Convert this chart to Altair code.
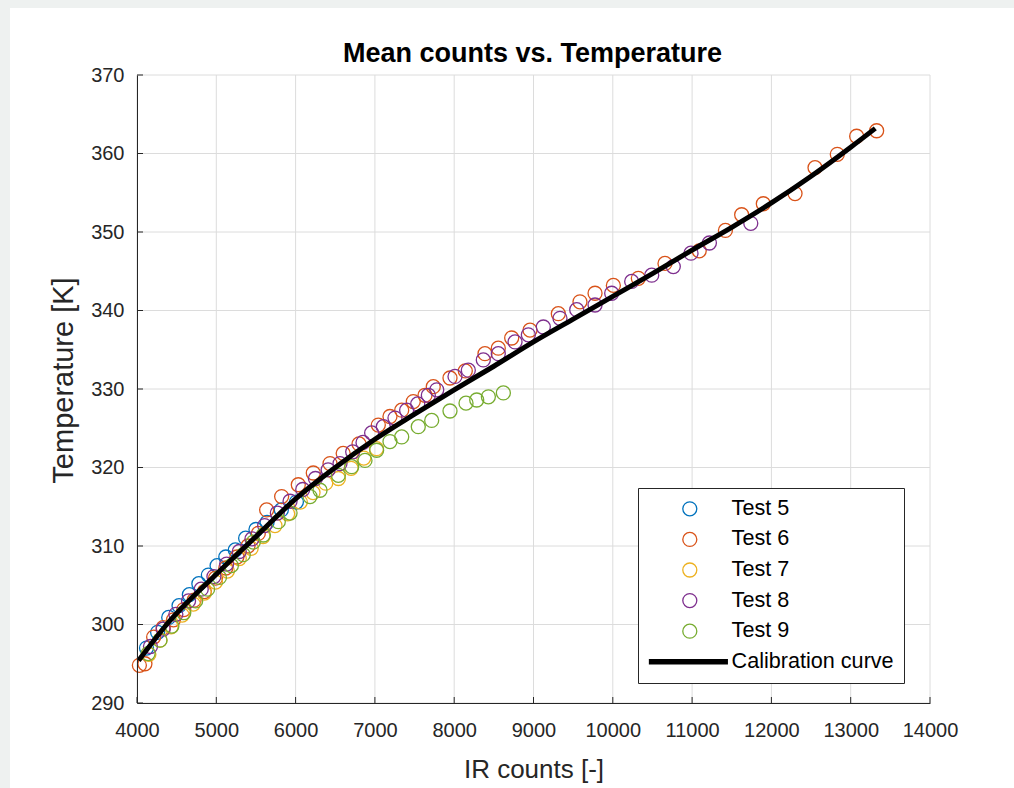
import altair as alt
import pandas as pd

FONT = "Liberation Sans"

# ---------------- data ----------------
series_names = ["Test 5", "Test 6", "Test 7", "Test 8", "Test 9"]
legend_labels = series_names + ["Calibration curve"]
series_colors = ["#0072BD", "#D95319", "#EDB120", "#7E2F8E", "#77AC30", "#000000"]

x5 = [4120, 4260, 4400, 4530, 4660, 4780, 4900, 5010, 5120, 5240, 5370, 5500, 5640, 5820, 6010]
t5 = [297.0, 299.0, 300.9, 302.4, 303.8, 305.2, 306.3, 307.5, 308.6, 309.5, 311.0, 312.1, 313.0, 314.6, 315.6]

x6 = [4030, 4100, 4210, 4330, 4460, 4590, 4720, 4850, 4990, 5120, 5260, 5400, 5530, 5635, 5824,
      6034, 6223, 6434, 6600, 6800, 7043, 7190, 7338, 7484, 7632, 7736, 7947, 8140, 8388, 8556,
      8725, 8956, 9313, 9586, 9776, 10007, 10322, 10658, 11090, 11420, 11625, 11898, 12298, 12550,
      12831, 13075, 13327]
t6 = [294.8, 295.0, 298.4, 299.6, 300.6, 301.9, 303.1, 304.2, 305.9, 307.2, 308.6, 310.0, 311.6, 314.6, 316.3,
      317.8, 319.3, 320.5, 321.8, 323.0, 325.4, 326.5, 327.3, 328.4, 329.2, 330.3, 331.4, 332.3, 334.5, 335.2,
      336.5, 337.5, 339.6, 341.1, 342.2, 343.2, 344.1, 346.0, 347.6, 350.2, 352.2, 353.6, 354.9, 358.2,
      359.9, 362.2, 362.9]

x7 = [4150, 4290, 4430, 4570, 4710, 4850, 4990, 5140, 5290, 5440, 5590, 5740, 5900, 6060, 6220,
      6380, 6540, 6700, 6860, 7020]
t7 = [296.2, 298.0, 299.7, 301.2, 302.6, 304.0, 305.4, 306.8, 308.4, 309.7, 311.2, 312.6, 314.1, 315.6, 316.8,
      318.0, 318.6, 319.9, 321.2, 322.4]

x8 = [4170, 4330, 4490, 4650, 4810, 4970, 5130, 5290, 5450, 5610, 5770, 5930, 6090, 6250, 6410,
      6560, 6720, 6850, 6959, 7106, 7253, 7400, 7540, 7674, 7780, 8010, 8178, 8367, 8556, 8767,
      8935, 9124, 9334, 9545, 9776, 9986, 10238, 10491, 10763, 10986, 11218, 11740]
t8 = [297.2, 299.4, 301.3, 303.0, 304.5, 306.1, 307.7, 309.3, 310.9, 312.6, 314.2, 315.7, 317.2, 318.6, 319.7,
      320.5, 322.0, 323.2, 324.4, 325.2, 326.3, 327.3, 328.1, 329.2, 329.9, 331.6, 332.4, 333.7, 334.5, 336.0,
      336.9, 337.9, 339.0, 340.1, 340.7, 342.2, 343.7, 344.5, 345.6, 347.3, 348.6, 351.1]

x9 = [4140, 4290, 4440, 4590, 4740, 4890, 5040, 5190, 5340, 5467, 5593, 5782, 5930, 6182, 6308,
      6539, 6707, 6875, 7022, 7190, 7338, 7547, 7716, 7947, 8149, 8284, 8431, 8620]
t9 = [296.3, 298.0, 299.8, 301.5, 303.0, 304.5, 306.0, 307.5, 308.9, 310.5, 311.4, 313.1, 314.2, 316.3, 317.1,
      319.0, 320.1, 320.9, 322.2, 323.3, 323.9, 325.2, 326.0, 327.2, 328.2, 328.6, 329.0, 329.5]

curve_x = [4020, 4374, 5000, 5500, 6000, 6500, 7000, 7500, 8000, 8500, 9000, 9500, 10000,
           10500, 11000, 11500, 12000, 12500, 13000, 13310]
curve_t = [295.4, 300.0, 306.4, 311.2, 316.0, 320.0, 323.6, 326.8, 329.9, 332.9, 336.0, 338.9, 341.8,
           344.7, 347.7, 350.6, 353.7, 357.1, 360.8, 363.2]

x_ticks = [4000, 5000, 6000, 7000, 8000, 9000, 10000, 11000, 12000, 13000, 14000]
y_ticks = [290, 300, 310, 320, 330, 340, 350, 360, 370]

title_text = "Mean counts vs. Temperature"
x_title = "IR counts [-]"
y_title = "Temperature [K]"

# ---------------- tables ----------------
rows = []
for name, xs_, ts_ in zip(series_names, [x5, x6, x7, x8, x9], [t5, t6, t7, t8, t9]):
    for a, b in zip(xs_, ts_):
        rows.append({"x": a, "T": b, "series": name})
pts = pd.DataFrame(rows)
curve = pd.DataFrame({"x": curve_x, "T": curve_t})
xt = pd.DataFrame({"x": x_ticks})
yt = pd.DataFrame({"T": y_ticks})
one = pd.DataFrame({"p": [0]})

W, H = 793, 628
xs = alt.Scale(domain=[4000, 14000], nice=False, zero=False)
ys = alt.Scale(domain=[290, 370], nice=False, zero=False)

ax_x = alt.Axis(
    title=x_title, values=x_ticks, format="d", grid=False, ticks=False, tickSize=0,
    labelFontSize=20, labelFont=FONT, labelColor="#262626", labelPadding=17,
    labelFlush=False, labelOverlap=False,
    domainColor="#262626", domainWidth=1,
    titleFont=FONT, titleFontSize=26, titleFontWeight="normal", titleColor="#262626",
    titleX=W / 2, titleY=74, titleAlign="center", titleBaseline="alphabetic", zindex=2,
)
ax_y = alt.Axis(
    title=y_title, values=y_ticks, format="d", grid=False, ticks=False, tickSize=0,
    labelFontSize=20, labelFont=FONT, labelColor="#262626", labelPadding=13,
    labelFlush=False, labelOverlap=False,
    domainColor="#262626", domainWidth=1,
    titleFont=FONT, titleFontSize=29, titleFontWeight="normal", titleColor="#262626",
    titleX=-65, titleY=305, titleAlign="center", titleBaseline="alphabetic",
    titleAngle=270, zindex=2,
)

X = alt.X("x:Q", scale=xs, axis=ax_x)
Y = alt.Y("T:Q", scale=ys, axis=ax_y)

line_path = ("M-5.85,-0.3L5.45,-0.3M-5.85,-0.15L5.45,-0.15M-5.85,0L5.45,0"
             "M-5.85,0.15L5.45,0.15M-5.85,0.3L5.45,0.3")
shape_range = ["circle"] * 5 + [line_path]

legend = alt.Legend(
    title=None, orient="none", legendX=501, legendY=413, padding=10,
    rowPadding=7.6, labelFontSize=21.6, labelFont=FONT, labelColor="#000000", labelLimit=400,
    symbolSize=196, symbolStrokeWidth=1.3, labelOffset=31, symbolOffset=31,
    strokeColor="#262626", fillColor="white", cornerRadius=0,
    symbolOpacity=1,
)

panel = alt.Chart(one).mark_rect(color="white").encode(
    x=alt.value(-127), x2=alt.value(877), y=alt.value(-67), y2=alt.value(713)
)

grid_x = alt.Chart(xt).mark_rule(color="#dcdcdc", strokeWidth=1).encode(x=X)
grid_y = alt.Chart(yt).mark_rule(color="#dcdcdc", strokeWidth=1).encode(y=Y)
tick_x = alt.Chart(xt).mark_rule(color="#262626", strokeWidth=1).encode(
    x=X, y=alt.value(H), y2=alt.value(H - 6)
)
tick_y = alt.Chart(yt).mark_rule(color="#262626", strokeWidth=1).encode(
    y=Y, x=alt.value(0), x2=alt.value(6)
)

points = alt.Chart(pts).mark_point(filled=False, size=196, strokeWidth=1.3, opacity=1).encode(
    x=X, y=Y,
    color=alt.Color("series:N", scale=alt.Scale(domain=legend_labels, range=series_colors), legend=legend),
    shape=alt.Shape("series:N", scale=alt.Scale(domain=legend_labels, range=shape_range), legend=legend),
)

calib = alt.Chart(curve).mark_line(color="black", strokeWidth=5, interpolate="monotone").encode(
    x=X, y=Y
)

title = alt.Chart(one).mark_text(
    text=title_text, font=FONT, fontSize=27, fontWeight="bold", color="#000000",
    align="center", baseline="alphabetic",
).encode(x=alt.value(W / 2 - 1), y=alt.value(-13))

chart = alt.layer(panel, grid_x, grid_y, tick_x, tick_y, points, calib, title).properties(
    width=W, height=H,
    autosize=alt.AutoSizeParams(type="none"),
    padding={"left": 137, "top": 75, "right": 84, "bottom": 85},
    background="#eef1f0",
).configure_view(stroke=None)

chart.save("out.html", embed_options={"renderer": "svg", "actions": False})
